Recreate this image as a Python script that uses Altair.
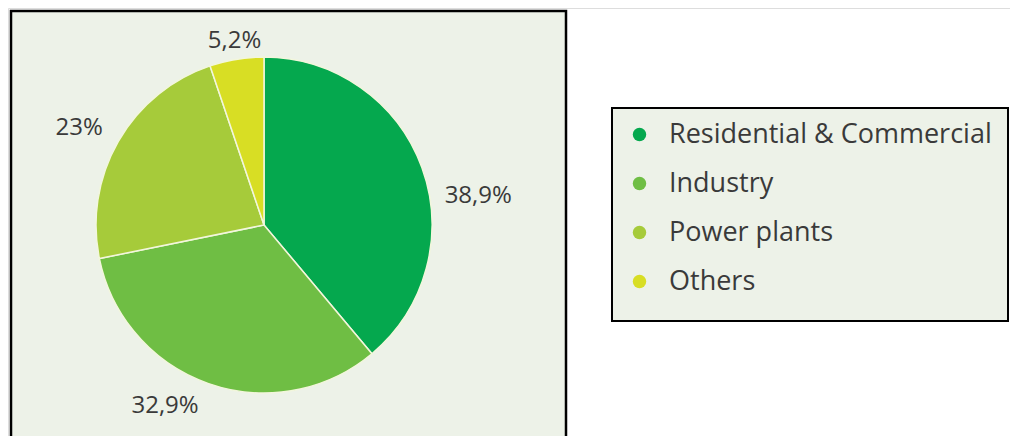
import altair as alt
import pandas as pd

categories = ["Residential & Commercial", "Industry", "Power plants", "Others"]
shares = [38.9, 32.9, 23.0, 5.2]
labels = ["38,9%", "32,9%", "23%", "5,2%"]
colors = ["#05A84E", "#6FBE44", "#A6CB3A", "#D8DE24"]

df = pd.DataFrame({
    "category": categories,
    "share": shares,
    "label": labels,
    "order": list(range(len(categories))),
})

W, H = 1002, 428
CX, CY = 256, 217
R = 168
LR = 212
FONT = "Open Sans"
TEXT_COLOR = "#3a3a3a"
PANEL_FILL = "#EDF2E8"

# label nudges (px) per category
nudge = {
    "Residential & Commercial": (15, 43),
    "Industry": (-29, -19),
    "Power plants": (-1, 9),
    "Others": (5, 25),
}

base = alt.Chart(df)

panel = base.mark_rect(fill=PANEL_FILL, stroke="#000000", strokeWidth=2.5).encode(
    x=alt.value(3), x2=alt.value(558), y=alt.value(3), y2=alt.value(H + 20)
).transform_filter(alt.datum.order == 0)

legend_box = base.mark_rect(fill=PANEL_FILL, stroke="#000000", strokeWidth=2).encode(
    x=alt.value(604), x2=alt.value(1000), y=alt.value(100), y2=alt.value(313)
).transform_filter(alt.datum.order == 0)

color_enc = alt.Color(
    "category:N",
    sort=categories,
    scale=alt.Scale(domain=categories, range=colors),
    legend=alt.Legend(
        title=None,
        orient="none",
        legendX=618,
        legendY=113,
        symbolType="circle",
        symbolSize=180,
        symbolStrokeWidth=0,
        labelFont=FONT,
        labelFontSize=27,
        labelColor=TEXT_COLOR,
        labelOffset=16,
        labelLimit=400,
        rowPadding=21,
        padding=0,
    ),
)

pie = base.mark_arc(radius=R, x=CX, y=CY, stroke="#F2F6DC", strokeWidth=1.5).encode(
    theta=alt.Theta("share:Q", stack=True),
    color=color_enc,
    order=alt.Order("order:Q"),
)

text_layers = []
for cat in categories:
    dx, dy = nudge[cat]
    t = base.mark_text(
        radius=LR, x=CX, y=CY, dx=dx, dy=dy,
        font=FONT, fontSize=24, color=TEXT_COLOR,
        align="center", baseline="middle",
    ).encode(
        theta=alt.Theta("share:Q", stack=True),
        order=alt.Order("order:Q"),
        text=alt.Text("label:N"),
        opacity=alt.condition(alt.datum.category == cat, alt.value(1), alt.value(0)),
    )
    text_layers.append(t)

chart = alt.layer(panel, legend_box, pie, *text_layers).properties(
    width=W, height=H,
    autosize=alt.AutoSizeParams(type="none"),
    padding=0,
).configure_view(stroke="transparent", strokeWidth=0).configure(background="#ffffff")

chart.save("out.html", embed_options={"renderer": "svg", "actions": False})
